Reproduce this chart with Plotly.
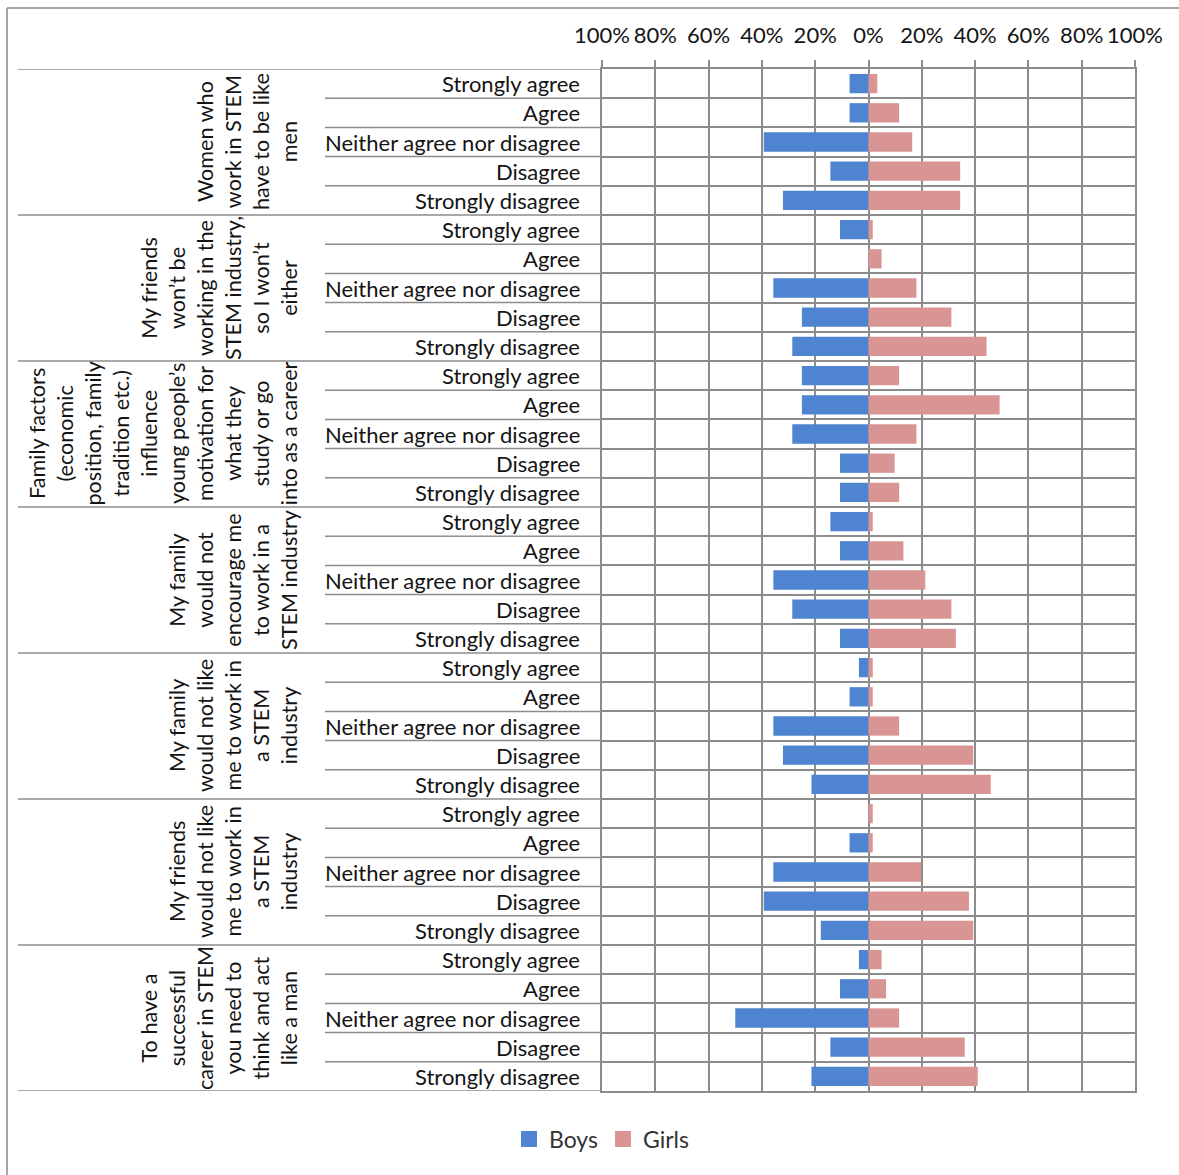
import plotly.graph_objects as go

# Survey statements (line breaks control how each rotated label wraps)
statements = [
    "Women who<br>work in STEM<br>have to be like<br>men",
    "My friends<br>won’t be<br>working in the<br>STEM industry,<br>so I won’t<br>either",
    "Family factors<br>(economic<br>position, family<br>tradition etc.)<br>influence<br>young people’s<br>motivation for<br>what they<br>study or go<br>into as a career",
    "My family<br>would not<br>encourage me<br>to work in a<br>STEM industry",
    "My family<br>would not like<br>me to work in<br>a STEM<br>industry",
    "My friends<br>would not like<br>me to work in<br>a STEM<br>industry",
    "To have a<br>successful<br>career in STEM<br>you need to<br>think and act<br>like a man",
]
responses = ["Strongly agree", "Agree", "Neither agree nor disagree",
             "Disagree", "Strongly disagree"]

# Share of respondents (%) per statement, in the order of `responses`
boys = [
    [7.1, 7.1, 39.3, 14.3, 32.1],
    [10.7, 0.0, 35.7, 25.0, 28.6],
    [25.0, 25.0, 28.6, 10.7, 10.7],
    [14.3, 10.7, 35.7, 28.6, 10.7],
    [3.6, 7.1, 35.7, 32.1, 21.4],
    [0.0, 7.1, 35.7, 39.3, 17.9],
    [3.6, 10.7, 50.0, 14.3, 21.4],
]
girls = [
    [3.3, 11.5, 16.4, 34.4, 34.4],
    [1.6, 4.9, 18.0, 31.1, 44.3],
    [11.5, 49.2, 18.0, 9.8, 11.5],
    [1.6, 13.1, 21.3, 31.1, 32.8],
    [1.6, 1.6, 11.5, 39.3, 45.9],
    [1.6, 1.6, 19.7, 37.7, 39.3],
    [4.9, 6.6, 11.5, 36.1, 41.0],
]
tick_values = [-100, -80, -60, -40, -20, 0, 20, 40, 60, 80, 100]
tick_labels = ["100%", "80%", "60%", "40%", "20%", "0%",
               "20%", "40%", "60%", "80%", "100%"]

BOYS_COLOR = "#4E84D0"
GIRLS_COLOR = "#D99594"
GRID = "#8C8C8C"
TEXT = "#141414"
FONT = "Lato"

# Figure geometry in pixels
W, H = 1179, 1175
L, R, T, B = 602, 44, 69, 84
PW, PH = W - L - R, H - T - B


def px_x(px):
    return (px - L) / PW


def px_y(py):
    return (H - B - py) / PH


n_resp = len(responses)
rows = [g * n_resp + r for g in range(len(statements)) for r in range(n_resp)]
boys_flat = [v for grp in boys for v in grp]
girls_flat = [v for grp in girls for v in grp]

fig = go.Figure()
fig.add_trace(go.Bar(
    y=rows, x=[-v for v in boys_flat], orientation="h", name="Boys",
    marker=dict(color=BOYS_COLOR, line=dict(width=0)), width=0.66,
    showlegend=False,
    customdata=boys_flat, hovertemplate="Boys: %{customdata}%<extra></extra>",
))
fig.add_trace(go.Bar(
    y=rows, x=girls_flat, orientation="h", name="Girls",
    marker=dict(color=GIRLS_COLOR, line=dict(width=0)), width=0.66,
    showlegend=False,
    hovertemplate="Girls: %{x}%<extra></extra>",
))
# Legend entries with larger square swatches
for name, color in [("Boys", BOYS_COLOR), ("Girls", GIRLS_COLOR)]:
    fig.add_trace(go.Scatter(
        x=[None], y=[None], mode="markers", name=name,
        marker=dict(symbol="square", size=16, color=color),
    ))

shapes = []
annotations = []

# Row separators extending into the label column
for k in range(len(rows) + 1):
    is_group_edge = k % n_resp == 0
    x0 = px_x(18) if is_group_edge else px_x(325)
    shapes.append(dict(type="line", xref="paper", yref="y",
                       x0=x0, x1=0, y0=k - 0.5, y1=k - 0.5,
                       line=dict(color=GRID, width=1.5)))

# Response labels
for g in range(len(statements)):
    for r, resp in enumerate(responses):
        annotations.append(dict(
            text=resp, xref="paper", yref="y", x=px_x(582), y=g * n_resp + r,
            xanchor="right", yanchor="middle", showarrow=False,
            font=dict(family=FONT, size=22, color=TEXT),
        ))
    # Statement label, rotated, wrapped toward the response column
    annotations.append(dict(
        text=statements[g], xref="paper", yref="y",
        x=px_x(304), y=g * n_resp + (n_resp - 1) / 2,
        xanchor="right", yanchor="middle", textangle=-90, align="center",
        showarrow=False,
        font=dict(family=FONT, size=21.6, color=TEXT),
    ))

# Chart frame (left and top edges)
frame = dict(color="#A6A6A6", width=2)
shapes.append(dict(type="line", xref="paper", yref="paper",
                   x0=px_x(7), x1=px_x(7), y0=px_y(8), y1=px_y(H + 5), line=frame))
shapes.append(dict(type="line", xref="paper", yref="paper",
                   x0=px_x(7), x1=px_x(W + 5), y0=px_y(8), y1=px_y(8), line=frame))

fig.update_layout(
    width=W, height=H,
    margin=dict(l=L, r=R, t=T, b=B),
    paper_bgcolor="white", plot_bgcolor="white",
    barmode="overlay",
    font=dict(family=FONT, size=21, color=TEXT),
    shapes=shapes,
    annotations=annotations,
    legend=dict(orientation="h", x=px_x(602), xanchor="center",
                y=px_y(1139), yanchor="middle",
                font=dict(family=FONT, size=23, color="#333333"),
                itemwidth=30, tracegroupgap=0),
    hovermode="closest",
)
fig.update_xaxes(
    side="top", range=[-100, 100], tickvals=tick_values, ticktext=tick_labels,
    showgrid=True, gridcolor=GRID, gridwidth=1.5, zeroline=False,
    ticks="outside", ticklen=7, tickcolor=GRID, tickwidth=1.5,
    ticklabelstandoff=8,
    tickfont=dict(family=FONT, size=22, color=TEXT),
    showline=True, linecolor=GRID, linewidth=1.5, mirror=True,
    fixedrange=True,
)
fig.update_yaxes(
    range=[len(rows) - 0.5, -0.5],
    tickvals=[k - 0.5 for k in range(len(rows) + 1)],
    showticklabels=False, ticks="",
    showgrid=True, gridcolor=GRID, gridwidth=1.5, zeroline=False,
    showline=True, linecolor=GRID, linewidth=1.5, mirror=True,
    fixedrange=True,
)

fig.write_html("out.html")
